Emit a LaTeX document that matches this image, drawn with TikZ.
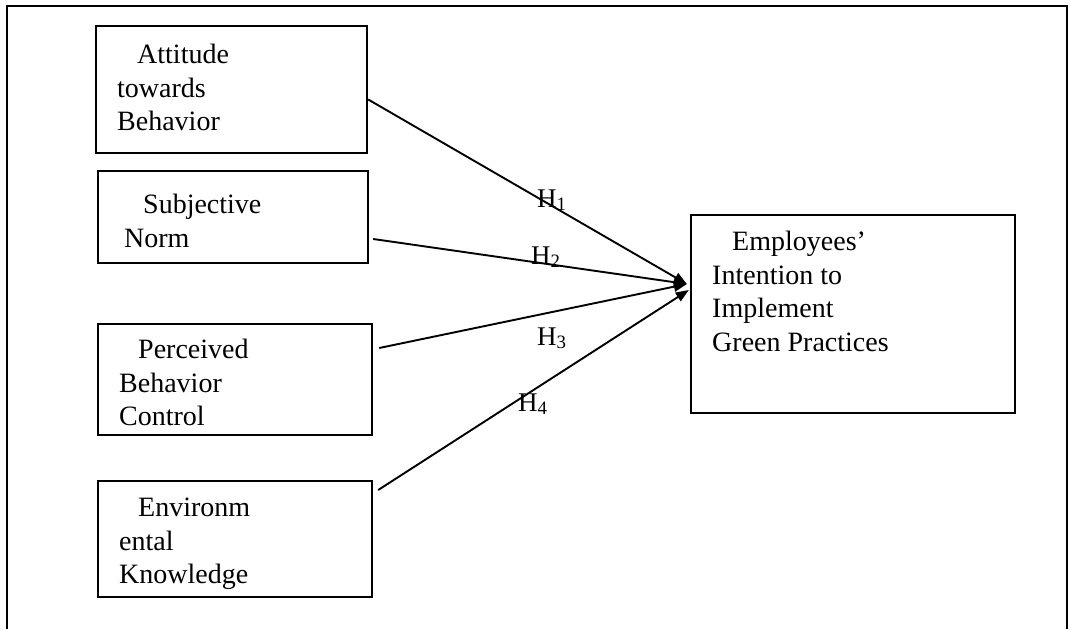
\documentclass[tikz,border=0pt]{standalone}
\usepackage{fontspec}
\setmainfont{Liberation Serif}
\usetikzlibrary{arrows.meta,calc}
\begin{document}
\begin{tikzpicture}[x=1pt,y=-1pt,
 frame/.style={line width=2.4pt},
 box/.style={draw,line width=2.4pt,rectangle,inner sep=0pt},
 txt/.style={anchor=north west,inner sep=0pt,align=left,font=\fontsize{28}{33.5}\selectfont},
 hlab/.style={anchor=base west,inner sep=0pt,font=\fontsize{27}{30}\selectfont},
 arr/.style={line width=1.9pt,-{Triangle[length=13pt,width=10pt]}}]
\useasboundingbox (0,0) rectangle (1070,629);
\draw[frame] (7,629) -- (7,6) -- (1067,6) -- (1067,629);

% boxes
\node[box,minimum width=271pt,minimum height=127pt] (att) at (231.5,89.5) {};
\node[box,minimum width=270pt,minimum height=92pt] (sub) at (233,217) {};
\node[box,minimum width=274pt,minimum height=111pt] (per) at (235,379.5) {};
\node[box,minimum width=274pt,minimum height=116pt] (env) at (235,539) {};
\node[box,minimum width=324pt,minimum height=198pt] (emp) at (853,314) {};

% texts
\node[txt] (attT) at (117,44) {\hspace*{20pt}Attitude\\towards\\Behavior};
\node[txt] (subT) at (124,194) {\hspace*{19pt}Subjective\\Norm};
\node[txt] (perT) at (119,339) {\hspace*{19pt}Perceived\\Behavior\\Control};
\node[txt] (envT) at (119,498) {\hspace*{19pt}Environm\\ental\\Knowledge};
\node[txt] (empT) at (712,231) {\hspace*{20pt}Employees’\\Intention to\\Implement\\Green Practices};

% connector ends
\coordinate (tip) at ($(emp.west)+(-3,-30)$);
\coordinate (tip4) at ($(emp.west)+(-1,-24)$);
\coordinate (s1) at ($(att.east)+(0,10)$);
\coordinate (s2) at ($(sub.east)+(4,22)$);
\coordinate (s3) at ($(per.east)+(6,-31.5)$);
\coordinate (s4) at ($(env.east)+(5,-49)$);

\draw[arr] (s1) -- (tip);
\draw[arr] (s2) -- (tip);
\draw[arr] (s3) -- (tip);
\draw[arr] (s4) -- (tip4);

% labels
\node[hlab] (h1) at (537,207) {H\textsubscript{1}};
\node[hlab] (h2) at (531,264) {H\textsubscript{2}};
\node[hlab] (h3) at (537,345) {H\textsubscript{3}};
\node[hlab] (h4) at (518,411) {H\textsubscript{4}};
\end{tikzpicture}
\end{document}
